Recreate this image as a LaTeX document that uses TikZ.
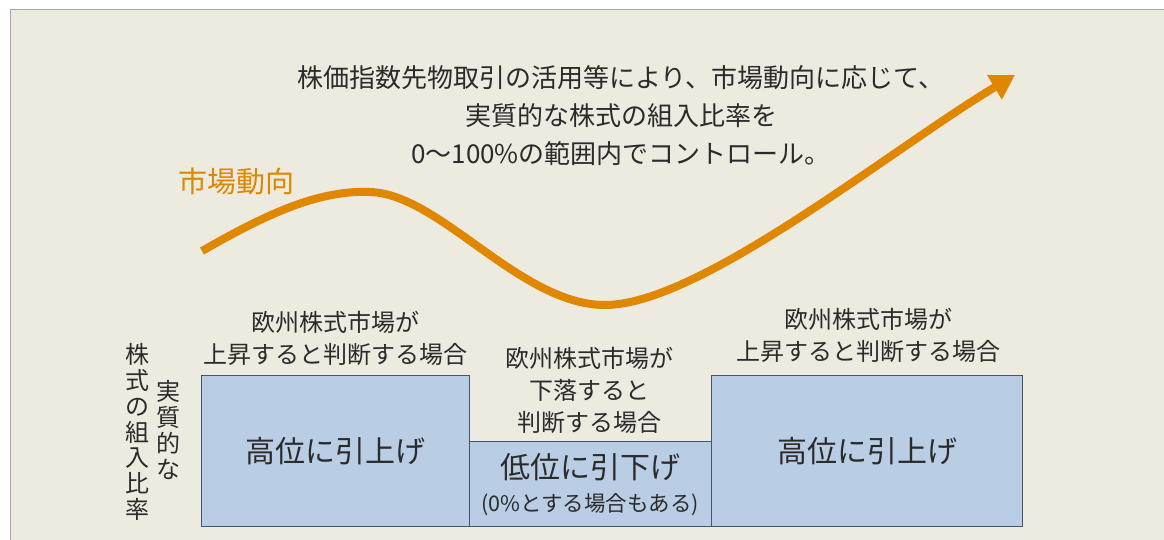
\documentclass[tikz,border=0pt]{standalone}
\usepackage{fontspec}
\usepackage{tikz}
\usetikzlibrary{arrows.meta}
\setmainfont{Noto Sans CJK JP}
\definecolor{bgbeige}{HTML}{EDEAE0}
\definecolor{frameg}{HTML}{A6A6A6}
\definecolor{trend}{HTML}{E08700}
\definecolor{boxfill}{HTML}{B9CDE4}
\definecolor{boxline}{HTML}{44546A}
\definecolor{txt}{HTML}{2B2B2B}

\begin{document}
\begin{tikzpicture}[x=1pt,y=-1pt]
\tikzstyle{every node}=[text=txt,inner sep=0pt]
\tikzstyle{box}=[draw=boxline,fill=boxfill,line width=1pt,anchor=south west]
\tikzstyle{caption}=[align=center,font=\fontsize{24}{32}\selectfont]
\tikzstyle{big}=[font=\fontsize{30}{36}\selectfont]
\tikzstyle{tate}=[align=center,font=\fontsize{24}{25.7}\selectfont]

\useasboundingbox (0,0) rectangle (1164,540);
\fill[white] (0,0) rectangle (1164,540);
\fill[bgbeige] (10,10) rectangle (1164,540);
\draw[frameg,line width=1pt] (10,540) -- (10,10) -- (1164,10);

% note
\node[align=center,font=\fontsize{26}{38}\selectfont] (note) at (621,116)
  {株価指数先物取引の活用等により、市場動向に応じて、\\実質的な株式の組入比率を\\0〜100\%の範囲内でコントロール。};

% market trend
\node[text=trend,font=\fontsize{29}{34}\selectfont] (mkt) at (236,181) {市場動向};
\coordinate (c0) at (202,251);
\coordinate (c1) at (370,192);
\coordinate (c2) at (605,305);
\coordinate (c3) at (1015,75);
\draw[trend,line width=8pt,-{Triangle[length=24pt,width=27pt]}]
  (c0) .. controls (270,212) and (320,190) .. (c1)
       .. controls (440,194) and (520,305) .. (c2)
       .. controls (700,305) and (890,150) .. (c3);

% ratio boxes
\node[box,minimum width=268pt,minimum height=151pt] (hiL) at (201,527) {};
\node[box,minimum width=242pt,minimum height=85pt] (lo) at (469,527) {};
\node[box,minimum width=311pt,minimum height=151pt] (hiR) at (711,527) {};
\node[big] (tL) at (hiL.center) {高位に引上げ};
\node[big] (tR) at (hiR.center) {高位に引上げ};
\node[big] (tlo) at (590,467) {低位に引下げ};
\node[font=\fontsize{21.5}{24}\selectfont] (tlo2) at (590,505) {(0\%とする場合もある)};

% captions
\node[caption] (capL) at (335,338) {欧州株式市場が\\上昇すると判断する場合};
\node[caption] (capM) at (589,390) {欧州株式市場が\\下落すると\\判断する場合};
\node[caption] (capR) at (868,335) {欧州株式市場が\\上昇すると判断する場合};

% vertical axis label
\node[tate] (ax1) at (137,432) {株\\式\\の\\組\\入\\比\\率};
\node[tate] (ax2) at (168,430) {実\\質\\的\\な};
\end{tikzpicture}
\end{document}
